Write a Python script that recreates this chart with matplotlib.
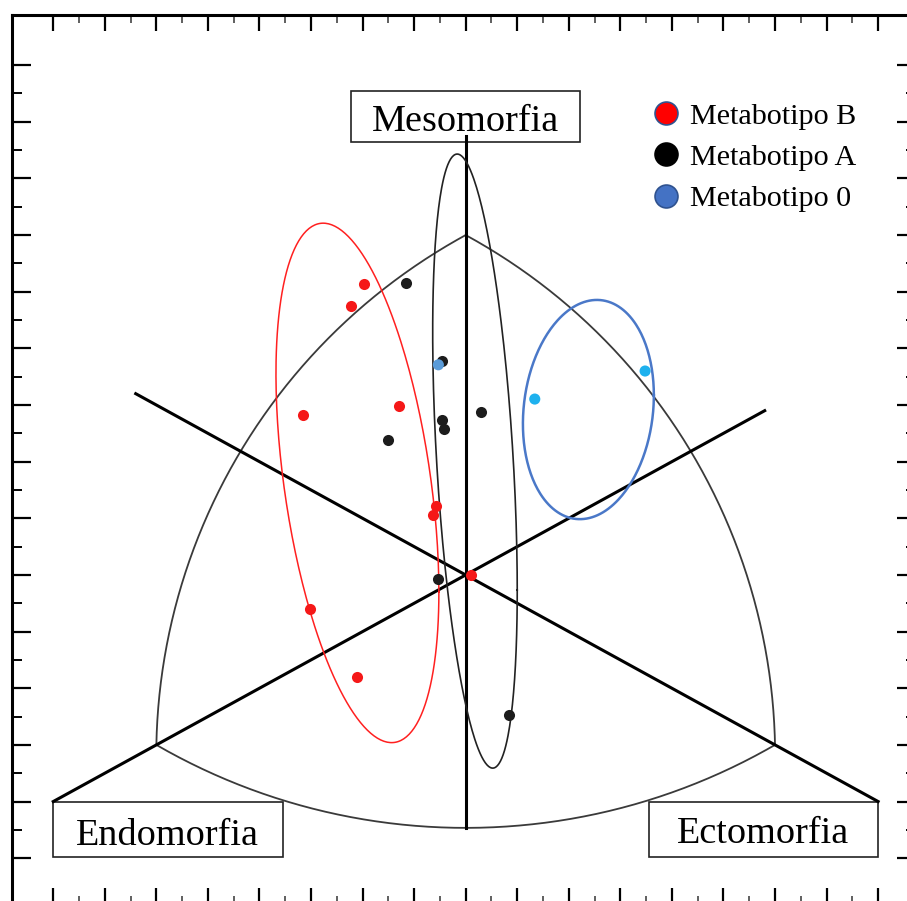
import numpy as np
import matplotlib
matplotlib.use("Agg")
import matplotlib.pyplot as plt
from matplotlib.lines import Line2D
from matplotlib.patches import Rectangle
from matplotlib.ticker import FixedLocator

plt.rcParams["font.family"] = ["Liberation Serif", "DejaVu Serif"]

# somatochart coordinates: X = ecto - endo, Y = 2*meso - endo - ecto
b_x = [-1.97, -2.23, -3.16, -1.30, -0.58, -0.63, -3.02, -2.11, 0.10]
b_y = [10.26, 9.48, 5.66, 5.97, 2.44, 2.13, -1.20, -3.60, 0.00]
a_x = [-1.16, -0.45, -0.45, -0.43, 0.30, -1.50, -0.53, 0.84]
a_y = [10.30, 7.54, 5.46, 5.16, 5.74, 4.77, -0.15, -4.94]
o_x = [1.34, 3.48, -0.53]
o_y = [6.21, 7.20, 7.42]
o_colors = ["#1EB1EE", "#1EB1EE", "#5A9BD8"]

# ellipses: centre x, centre y, half width, half height, correlation
ell_b = (-2.10, 3.25, 1.58, 9.17, -0.42)
ell_a = (0.18, 4.02, 0.82, 10.84, -0.42)
ell_o = (2.38, 5.84, 1.27, 3.87, 0.13)

labels = ["Metabotipo B", "Metabotipo A", "Metabotipo 0"]

# chart frame: vertices of the somatochart and the bulge of each side
v_endo, v_ecto, v_meso = (-6, -6), (6, -6), (0, 12)
bulge_left, bulge_right, bulge_bottom = (-3.6, 6.41), (3.6, 6.41), (0, -8.93)

# px per unit, used to keep the arcs round on screen
sx, sy = 51.55, 28.33


def arc(p0, pm, p1, n=200):
    P = np.array([p0, pm, p1], float) * [sx, sy]
    (x1, y1), (x2, y2), (x3, y3) = P
    d = 2 * (x1 * (y2 - y3) + x2 * (y3 - y1) + x3 * (y1 - y2))
    s1, s2, s3 = x1**2 + y1**2, x2**2 + y2**2, x3**2 + y3**2
    ux = (s1 * (y2 - y3) + s2 * (y3 - y1) + s3 * (y1 - y2)) / d
    uy = (s1 * (x3 - x2) + s2 * (x1 - x3) + s3 * (x2 - x1)) / d
    r = np.hypot(x1 - ux, y1 - uy)
    ang = np.unwrap([np.arctan2(y - uy, x - ux) for x, y in P])
    t = np.linspace(ang[0], ang[2], n)
    return (ux + r * np.cos(t)) / sx, (uy + r * np.sin(t)) / sy


def ellipse(cx, cy, w, h, rho, n=300):
    t = np.linspace(0, 2 * np.pi, n)
    x = cx + w * np.cos(t)
    y = cy + h * (rho * np.cos(t) + np.sqrt(1 - rho**2) * np.sin(t))
    return x, y


fig = plt.figure(figsize=(9.07, 9.01), dpi=100)
ax = fig.add_axes([12 / 907, 1 - 903.5 / 901, 903.5 / 907, 888.5 / 901])
ax.set_xlim(-8.8, 8.725)
ax.set_ylim(-11.6, 19.77)

# outline of the chart
for p0, pm, p1 in [(v_endo, bulge_left, v_meso), (v_meso, bulge_right, v_ecto),
                   (v_endo, bulge_bottom, v_ecto)]:
    ax.plot(*arc(p0, pm, p1), color="#3a3a3a", lw=1.3, zorder=2)

# the three axes
ax.plot([-6.4, 8], [6.4, -8], color="black", lw=2.2, zorder=3)
ax.plot([-8, 5.8], [-8, 5.8], color="black", lw=2.2, zorder=3)
ax.plot([0, 0], [-8.93, 15.5], color="black", lw=2.2, zorder=3)

# label boxes
boxes = [("Mesomorfia", (-2.22, 15.28), 4.44, 1.80, 0.0, 15.68),
         ("Endomorfia", (-8.0, -9.95), 4.45, 1.95, -5.78, -9.53),
         ("Ectomorfia", (3.55, -9.95), 4.45, 1.95, 5.77, -9.47)]
for name, xy, w, h, tx, ty in boxes:
    ax.add_patch(Rectangle(xy, w, h, fc="white", ec="#222222", lw=1.2, zorder=2.5))
    ax.text(tx, ty, name, fontsize=27.5, ha="center", va="baseline", zorder=5)

# ellipses
ax.plot(*ellipse(*ell_b), color="#FF2020", lw=1.1, zorder=3.5)
ax.plot(*ellipse(*ell_a), color="#222222", lw=1.2, zorder=3.5)
ax.plot(*ellipse(*ell_o), color="#4A78C8", lw=1.8, zorder=3.5)

# points
ax.scatter(b_x, b_y, s=64, color="#F51818", lw=0, zorder=4)
ax.scatter(a_x, a_y, s=64, color="#1C1C1C", lw=0, zorder=4)
ax.scatter(o_x, o_y, s=64, color=o_colors, lw=0, zorder=4)

handles = [
    Line2D([], [], marker="o", ls="", ms=16.5, mfc="#FF0000", mec="#2F528F", mew=1.2),
    Line2D([], [], marker="o", ls="", ms=16.5, mfc="black", mec="black", mew=1.2),
    Line2D([], [], marker="o", ls="", ms=16.5, mfc="#4472C4", mec="#2F528F", mew=1.2),
]
ax.legend(handles, labels, loc="upper left", bbox_to_anchor=(654 / 907, 1 - 102.5 / 901),
          bbox_transform=fig.transFigure, frameon=False, fontsize=21.7,
          handlelength=0.8, handletextpad=0.4, labelspacing=0.47,
          borderpad=0, borderaxespad=0)

# frame ticks
ax.xaxis.set_major_locator(FixedLocator(np.arange(-8, 9)))
ax.xaxis.set_minor_locator(FixedLocator(np.arange(-7.5, 8, 1)))
ax.yaxis.set_major_locator(FixedLocator(np.arange(-10, 19, 2)))
ax.yaxis.set_minor_locator(FixedLocator(np.arange(-9, 18, 2)))
ax.tick_params(which="both", direction="in", top=True, right=True,
               labelbottom=False, labelleft=False)
ax.tick_params(axis="y", which="major", length=13.7, width=1.6)
ax.tick_params(axis="y", which="minor", length=7, width=1.4)
ax.tick_params(axis="x", which="major", length=11.5, width=1.6)
ax.tick_params(axis="x", which="minor", length=5.5, width=1.2, color="#444444")
for sp in ax.spines.values():
    sp.set_linewidth(2.2)

fig.savefig("out.png", dpi=100)
